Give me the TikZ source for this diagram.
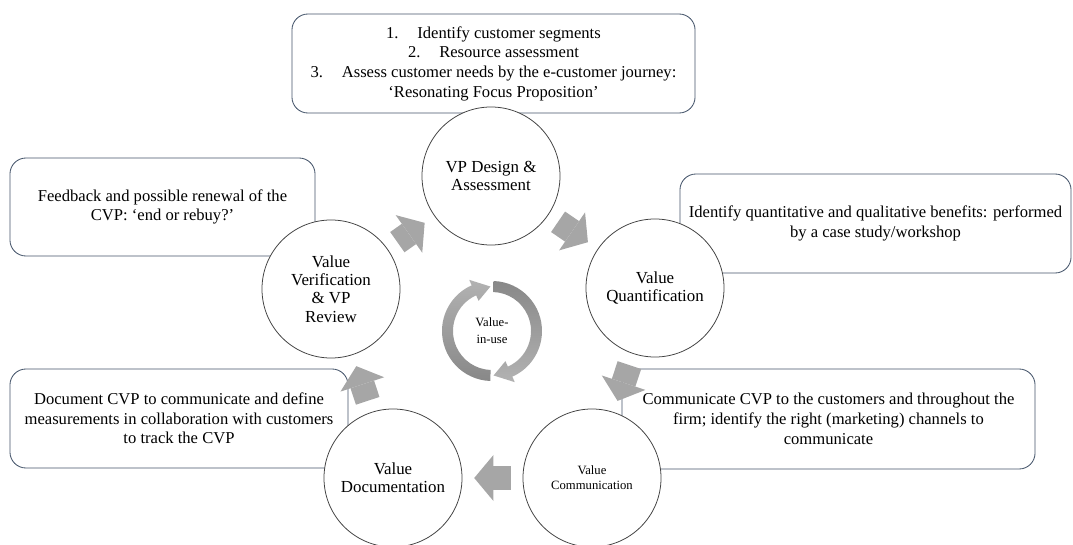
\documentclass[tikz,border=0pt]{standalone}
\usepackage{fontspec}
\setmainfont{Liberation Serif}
\usetikzlibrary{arrows.meta}
\definecolor{boxline}{RGB}{68,84,106}
\definecolor{stageline}{RGB}{64,64,64}
\definecolor{flowgray}{RGB}{166,166,166}
\definecolor{ringlight}{RGB}{178,178,178}
\definecolor{ringdark}{RGB}{136,136,136}
\newcommand{\itemnum}[1]{\makebox[0.78cm][l]{#1}}

\begin{document}
\begin{tikzpicture}[x=0.025cm, y=0.025cm,
  stagebox/.style={draw=boxline, line width=0.6pt, rounded corners=0.4cm, fill=white, inner sep=0pt, align=center, font=\fontsize{11.8pt}{14pt}\selectfont},
  stage/.style={circle, draw=stageline, line width=0.55pt, fill=white, minimum size=3.45cm, inner sep=0pt, align=center, font=\fontsize{12pt}{13pt}\selectfont},
  cyclearrow/.style={draw=flowgray, line width=0.62cm, shorten <=2.03cm, shorten >=2.03cm, -{Triangle[length=0.48cm, width=1.15cm, line width=0pt]}}]
\useasboundingbox (0,0) rectangle (1073,-545);
\node[stagebox, minimum width=10.075cm, minimum height=2.475cm] (designtxt) at (493.5,-63.5) {\itemnum{1.}Identify customer segments\\ \itemnum{2.}Resource assessment\\ \itemnum{3.}Assess customer needs by the e-customer journey:\\ ‘Resonating Focus Proposition’};
\node[stagebox, minimum width=7.625cm, minimum height=2.45cm] (reviewtxt) at (162.5,-207) {Feedback and possible renewal of the\\ CVP: ‘end or rebuy?’};
\node[stagebox, minimum width=9.775cm, minimum height=2.475cm] (quanttxt) at (875.5,-223.5) {Identify quantitative and qualitative benefits: performed\\ by a case study/workshop};
\node[stagebox, minimum width=10.325cm, minimum height=2.5cm] (commtxt) at (828.5,-419) {Communicate CVP to the customers and throughout the\\ firm; identify the right (marketing) channels to\\ communicate};
\node[stagebox, minimum width=8.45cm, minimum height=2.475cm] (docutxt) at (179,-418.5) {Document CVP to communicate and define\\ measurements in collaboration with customers\\ to track the CVP};
\node[stage] (design) at (491,-176) {VP Design \&\\ Assessment};
\node[stage] (quant) at (655,-288) {Value\\ Quantification};
\node[stage, font=\fontsize{9pt}{10.7pt}\selectfont] (comm) at (592,-478) {Value\\ Communication};
\node[stage] (docu) at (393,-478) {Value\\ Documentation};
\node[stage] (verif) at (331,-289) {Value\\ Verification\\ \& VP\\ Review};
\draw[cyclearrow] (verif.center) -- (design.center);
\draw[cyclearrow] (design.center) -- (quant.center);
\draw[cyclearrow] (quant.center) -- (comm.center);
\draw[cyclearrow] (comm.center) -- (docu.center);
\draw[cyclearrow] (docu.center) -- (verif.center);
\coordinate (hub) at (492,-331);
\shade[top color=ringlight, bottom color=ringdark] ([shift={(hub)}]268:50) arc[start angle=268, end angle=114, radius=50] -- ([shift={(hub)}]114:56) -- ([shift={(hub)}]92:44.5) -- ([shift={(hub)}]114:33) -- ([shift={(hub)}]114:39) arc[start angle=114, end angle=268, radius=39] -- cycle;
\shade[top color=ringdark, bottom color=ringlight] ([shift={(hub)}]88:50) arc[start angle=88, end angle=-66, radius=50] -- ([shift={(hub)}]-66:56) -- ([shift={(hub)}]-88:44.5) -- ([shift={(hub)}]-66:33) -- ([shift={(hub)}]-66:39) arc[start angle=-66, end angle=88, radius=39] -- cycle;
\node[font=\fontsize{9pt}{12pt}\selectfont, align=center] (use) at (hub) {Value-\\ in-use};
\end{tikzpicture}
\end{document}
